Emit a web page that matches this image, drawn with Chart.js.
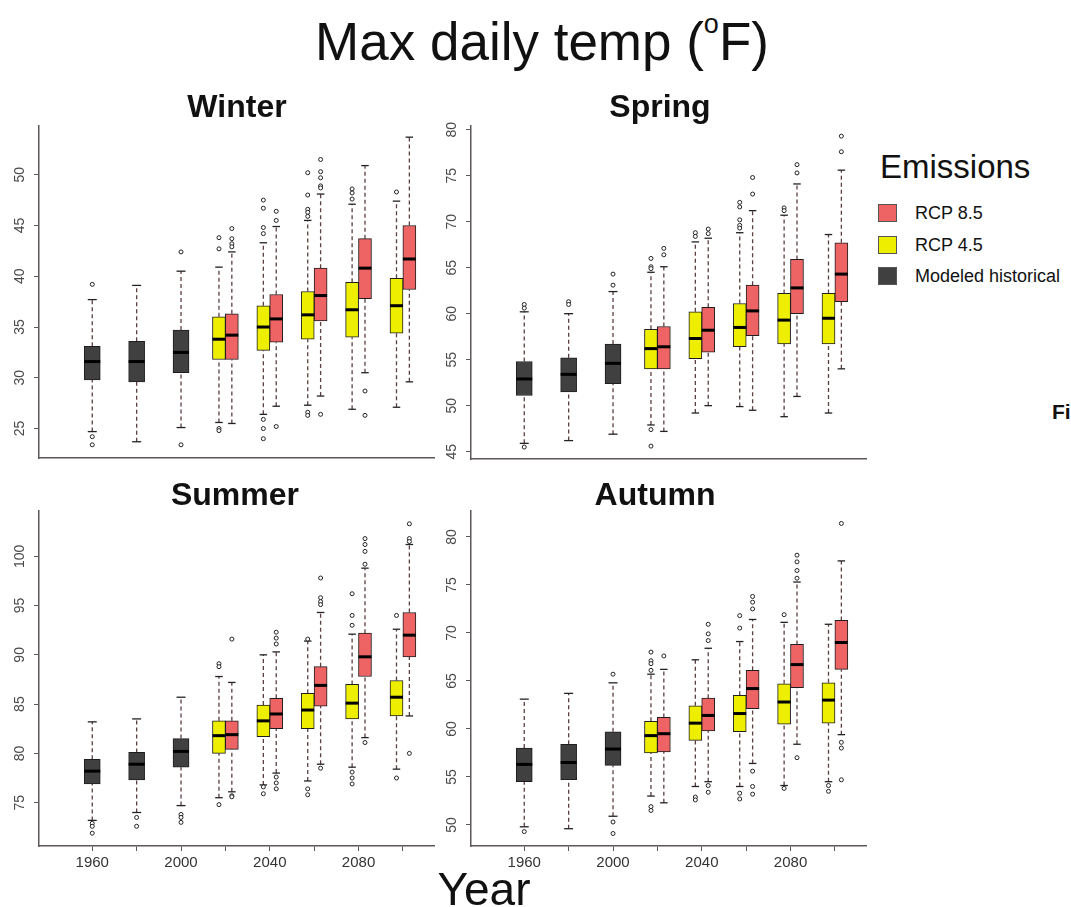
<!DOCTYPE html>
<html>
<head>
<meta charset="utf-8">
<script src="https://cdn.jsdelivr.net/npm/chart.js@4.4.1/dist/chart.umd.min.js"></script>
<style>
  body { margin: 0; background: #fff; font-family: "Liberation Sans", Arial, sans-serif; }
  #page { position: relative; width: 1071px; height: 907px; overflow: hidden; }
  canvas { position: absolute; }
  .txt { position: absolute; white-space: nowrap; color: #111; }
  .ptitle { font-weight: bold; font-size: 32px; line-height: 32px; text-align: center; width: 240px; }
  .sw { position: absolute; width: 17px; height: 16px; border: 1px solid #555; }
  .lab { font-size: 18px; line-height: 18px; }
</style>
</head>
<body>
<div id="page">
  <div class="txt" style="left:292px;top:15px;width:500px;text-align:center;font-size:53px;line-height:53px;">Max daily temp (<span style="font-size:27px;position:relative;top:-27px;">o</span>F)</div>

  <canvas id="winter" width="445" height="360" style="left:0px;top:115px"></canvas>
  <canvas id="spring" width="445" height="360" style="left:432px;top:115px"></canvas>
  <canvas id="summer" width="445" height="390" style="left:0px;top:500px"></canvas>
  <canvas id="autumn" width="445" height="390" style="left:432px;top:500px"></canvas>

  <div class="txt ptitle" style="left:117px;top:90px">Winter</div>
  <div class="txt ptitle" style="left:540px;top:90px">Spring</div>
  <div class="txt ptitle" style="left:115px;top:478px">Summer</div>
  <div class="txt ptitle" style="left:535px;top:478px">Autumn</div>

  <div class="txt" style="left:880px;top:150px;font-size:33px;line-height:33px;">Emissions</div>
  <div class="sw" style="left:878px;top:204px;background:#EE6363"></div>
  <div class="txt lab" style="left:915px;top:204px">RCP 8.5</div>
  <div class="sw" style="left:878px;top:236px;background:#EEEE00"></div>
  <div class="txt lab" style="left:915px;top:236px">RCP 4.5</div>
  <div class="sw" style="left:878px;top:267px;background:#404040"></div>
  <div class="txt lab" style="left:915px;top:267px">Modeled historical</div>

  <div class="txt" style="left:1052px;top:401px;font-size:21px;line-height:21px;font-weight:bold;">Fi</div>
  <div class="txt" style="left:384px;top:866px;width:200px;text-align:center;font-size:46px;line-height:46px;">Year</div>
</div>

<script>
// box stats per period: [lower whisker, q1, median, q3, upper whisker]
const histYears = [1960, 1980, 2000];
const futureYears = [2020, 2040, 2060, 2080, 2100];
const xTickYears = [1960, 1980, 2000, 2020, 2040, 2060, 2080, 2100];
const xLabelYears = [1960, 2000, 2040, 2080];

const winterHist = [[24.7, 29.8, 31.6, 33.1, 37.7], [23.7, 29.6, 31.6, 33.6, 39.1], [25.1, 30.5, 32.5, 34.7, 40.5]];
const winterRcp45 = [[25.6, 31.8, 33.8, 36.0, 40.9], [26.4, 32.7, 35.0, 37.1, 43.3], [27.3, 33.8, 36.2, 38.5, 45.5], [26.9, 34.0, 36.7, 39.4, 47.1], [27.1, 34.4, 37.1, 39.8, 47.4]];
const winterRcp85 = [[25.5, 31.8, 34.2, 36.3, 42.4], [27.2, 33.5, 35.8, 38.2, 44.9], [28.2, 35.6, 38.1, 40.8, 48.1], [30.5, 37.8, 40.8, 43.7, 50.9], [29.6, 38.7, 41.7, 45.0, 53.7]];
const winterOutHist = [[39.2, 24.2, 23.4], [], [42.4, 23.4]];
const winterOut45 = [[43.8, 42.7, 25.0, 24.8], [47.5, 46.7, 44.8, 44.2, 25.9, 25.0, 24.0], [50.2, 48.0, 46.6, 46.3, 45.9, 26.6, 26.3], [48.6, 48.2, 47.6], [48.3]];
const winterOut85 = [[44.7, 43.7, 43.2, 42.9], [46.4, 45.5, 25.2], [51.5, 50.3, 49.7, 48.9, 48.7, 26.4], [28.7, 26.3], []];
const winterTicks = [25, 30, 35, 40, 45, 50];

const springHist = [[45.9, 51.1, 52.9, 54.8, 60.2], [46.2, 51.5, 53.4, 55.2, 60.0], [46.9, 52.4, 54.6, 56.7, 62.4]];
const springRcp45 = [[47.9, 54.0, 56.2, 58.3, 64.5], [49.2, 55.1, 57.3, 60.2, 67.8], [49.9, 56.4, 58.5, 61.1, 68.8], [48.8, 56.7, 59.3, 62.2, 70.7], [49.2, 56.7, 59.5, 62.2, 68.6]];
const springRcp85 = [[47.2, 54.0, 56.4, 58.6, 65.1], [50.0, 55.8, 58.2, 60.7, 68.2], [49.5, 57.6, 60.3, 63.1, 71.2], [51.0, 60.0, 62.8, 65.9, 74.1], [54.0, 61.3, 64.3, 67.7, 75.6]];
const springOutHist = [[61.0, 60.6, 45.5], [61.3, 61.0], [64.3, 63.1]];
const springOut45 = [[66.0, 65.1, 64.9, 47.4, 45.6], [68.8, 68.4], [72.1, 71.6, 70.2, 69.6, 69.3], [71.5, 71.2], []];
const springOut85 = [[67.1, 66.4], [69.2, 68.7], [74.8, 73.0], [76.2, 75.3], [79.3, 77.6]];
const springTicks = [45, 50, 55, 60, 65, 70, 75, 80];

const summerHist = [[73.2, 76.9, 78.2, 79.4, 83.2], [74.0, 77.3, 78.9, 80.1, 83.5], [74.7, 78.6, 80.2, 81.5, 85.7]];
const summerRcp45 = [[75.5, 80.0, 81.8, 83.3, 87.8], [76.8, 81.7, 83.3, 84.9, 90.0], [77.2, 82.5, 84.4, 86.1, 91.4], [78.6, 83.5, 85.1, 87.0, 92.1], [78.4, 83.8, 85.7, 87.4, 92.6]];
const summerRcp85 = [[76.1, 80.4, 81.9, 83.3, 87.2], [78.0, 82.5, 84.0, 85.6, 90.3], [78.9, 84.8, 86.9, 88.8, 94.3], [81.6, 87.8, 89.8, 92.2, 98.8], [83.8, 89.8, 92.0, 94.3, 101.2]];
const summerOutHist = [[72.9, 72.6, 71.9], [73.5, 72.6], [73.8, 73.5, 73.0]];
const summerOut45 = [[89.1, 88.8, 74.8], [76.6, 75.9], [91.6, 76.4, 75.8], [96.2, 94.0, 93.0, 78.1, 77.5, 76.9], [94.0, 77.5]];
const summerOut85 = [[91.6, 75.7, 75.6], [92.3, 91.7, 91.1, 77.6, 77.0, 76.4], [97.8, 95.8, 95.4, 95.1, 78.5], [101.8, 101.2, 100.5, 99.2, 81.1], [103.3, 101.8, 101.5, 80.0]];
const summerTicks = [75, 80, 85, 90, 95, 100];

const autumnHist = [[49.8, 54.5, 56.3, 58.0, 63.1], [49.6, 54.7, 56.5, 58.4, 63.7], [50.9, 56.2, 57.9, 59.7, 64.8]];
const autumnRcp45 = [[53.0, 57.5, 59.3, 60.8, 65.7], [54.0, 58.8, 60.6, 62.4, 67.2], [54.0, 59.7, 61.6, 63.5, 69.1], [54.1, 60.5, 62.8, 64.7, 71.1], [54.5, 60.6, 63.0, 64.8, 70.9]];
const autumnRcp85 = [[52.3, 57.6, 59.5, 61.2, 66.2], [54.5, 59.8, 61.4, 63.2, 68.4], [56.4, 62.1, 64.2, 66.1, 71.4], [58.4, 64.3, 66.7, 68.8, 75.3], [59.4, 66.2, 69.0, 71.3, 77.5]];
const autumnOutHist = [[49.3], [], [65.7, 50.3, 49.1]];
const autumnOut45 = [[68.0, 67.1, 66.8, 66.1, 51.9, 51.5], [52.9, 52.6], [71.8, 70.5, 53.3, 52.7], [71.9, 53.8], [54.1, 53.5]];
const autumnOut85 = [[67.6], [70.9, 69.9, 69.2, 54.1, 53.4], [73.8, 73.2, 72.5, 55.6, 54.0, 53.2], [78.1, 77.4, 76.5, 75.7, 57.0], [81.4, 58.6, 58.0, 54.7]];
const autumnTicks = [50, 55, 60, 65, 70, 75, 80];

const FONT = '"Liberation Sans", Arial, sans-serif';
const histColor = '#404040';
const rcp45Color = '#EEEE00';
const rcp85Color = '#EE6363';
const axisColor = '#5f5757';
const whiskerColor = '#5c3f3f';
const pairOffset = 2.9;

// rotated y tick labels, like R's default axis
const yLabelPlugin = {
    id: 'yLabels',
    afterDraw(chart) {
        const s = chart.scales.y;
        const ctx = chart.ctx;
        ctx.save();
        ctx.font = '14px ' + FONT;
        ctx.fillStyle = '#4a4a4a';
        ctx.textAlign = 'center';
        ctx.textBaseline = 'middle';
        s.ticks.forEach(t => {
            ctx.save();
            ctx.translate(chart.chartArea.left - 19, s.getPixelForValue(t.value));
            ctx.rotate(-Math.PI / 2);
            ctx.fillText(String(t.value), 0, 0);
            ctx.restore();
        });
        ctx.restore();
    }
};

function boxDatasets(xs, stats, outs, color, width) {
    const whisk = [];
    stats.forEach((s, i) => {
        whisk.push({ x: xs[i], y: s[0] }, { x: xs[i], y: s[1] }, { x: xs[i], y: null },
                   { x: xs[i], y: s[3] }, { x: xs[i], y: s[4] }, { x: xs[i], y: null });
    });
    return [
        { type: 'line', data: whisk, borderColor: whiskerColor, borderWidth: 1.3, borderDash: [4, 3],
          pointRadius: 0, spanGaps: false, order: 5 },
        { type: 'bar', data: stats.map((s, i) => ({ x: xs[i], y: [s[1], s[3]] })),
          backgroundColor: color, borderColor: '#1e1e1e', borderWidth: 1, borderSkipped: false,
          barThickness: width, grouped: false, order: 4 },
        { type: 'scatter', data: stats.flatMap((s, i) => [{ x: xs[i], y: s[0] }, { x: xs[i], y: s[4] }]),
          pointStyle: 'line', pointRadius: width / 4 + 0.5, borderColor: '#222', borderWidth: 1.3, order: 3 },
        { type: 'scatter', data: stats.map((s, i) => ({ x: xs[i], y: s[2] })),
          pointStyle: 'line', pointRadius: width / 2, borderColor: '#000', borderWidth: 3, order: 2 },
        { type: 'scatter', data: outs.flatMap((o, i) => o.map(v => ({ x: xs[i], y: v }))),
          pointStyle: 'circle', pointRadius: 2, backgroundColor: '#fff', borderColor: '#222', borderWidth: 1, order: 1 }
    ];
}

function makePanel(id, hist, r45, r85, outH, out45, out85, yMin, yMax, yTicks, padTop, xHeight, showX) {
    const datasets = [
        ...boxDatasets(histYears, hist, outH, histColor, 16),
        ...boxDatasets(futureYears.map(y => y - pairOffset), r45, out45, rcp45Color, 13),
        ...boxDatasets(futureYears.map(y => y + pairOffset), r85, out85, rcp85Color, 13)
    ];
    new Chart(document.getElementById(id), {
        type: 'bar',
        data: { datasets },
        options: {
            responsive: false,
            animation: false,
            events: [],
            layout: { padding: { left: 0, top: padTop, right: 10, bottom: 0 } },
            plugins: { legend: { display: false }, tooltip: { enabled: false } },
            scales: {
                x: {
                    type: 'linear', min: 1936, max: 2114, offset: false,
                    grid: { display: showX, drawOnChartArea: false, drawTicks: true, tickLength: 5, color: axisColor, offset: false },
                    border: { display: true, color: axisColor, width: 1.5 },
                    ticks: {
                        display: showX, autoSkip: false, maxRotation: 0, minRotation: 0, padding: 3,
                        color: '#333', font: { size: 15, family: FONT },
                        callback: v => xLabelYears.includes(v) ? String(v) : ''
                    },
                    afterBuildTicks: s => { s.ticks = xTickYears.map(v => ({ value: v })); },
                    afterFit: s => { s.height = xHeight; }
                },
                y: {
                    type: 'linear', min: yMin, max: yMax,
                    grid: { drawOnChartArea: false, drawTicks: true, tickLength: 5, color: axisColor },
                    border: { display: true, color: axisColor, width: 1.5 },
                    ticks: { display: false },
                    afterBuildTicks: s => { s.ticks = yTicks.map(v => ({ value: v })); },
                    afterFit: s => { s.width = 39; }
                }
            }
        },
        plugins: [yLabelPlugin]
    });
}

makePanel('winter', winterHist, winterRcp45, winterRcp85, winterOutHist, winterOut45, winterOut85, 22.1, 54.8, winterTicks, 7, 17, false);
makePanel('spring', springHist, springRcp45, springRcp85, springOutHist, springOut45, springOut85, 44.2, 80.4, springTicks, 8, 16, false);
makePanel('summer', summerHist, summerRcp45, summerRcp85, summerOutHist, summerOut45, summerOut85, 70.6, 104.6, summerTicks, 8, 44, true);
makePanel('autumn', autumnHist, autumnRcp45, autumnRcp85, autumnOutHist, autumnOut45, autumnOut85, 47.8, 82.7, autumnTicks, 7, 44, true);
</script>
</body>
</html>
